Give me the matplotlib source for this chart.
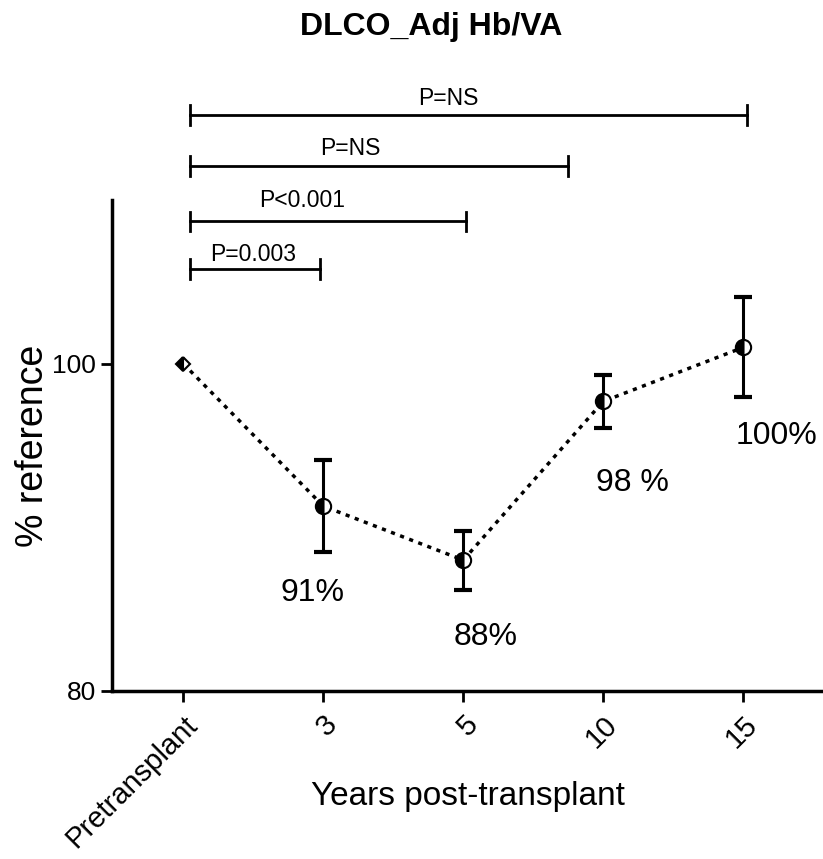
import matplotlib
matplotlib.use("Agg")
import matplotlib.pyplot as plt

plt.rcParams['font.family'] = ['Liberation Sans', 'DejaVu Sans']

# data
categories = ['Pretransplant', '3', '5', '10', '15']
means = [100.0, 91.3, 88.0, 97.7, 101.0]
errs = [0.0, 2.8, 1.8, 1.6, 3.05]
pct_text = ['91%', '88%', '98 %', '100%']
pct_pos = [(0.92, 86.0), (2.16, 83.3), (3.21, 92.7), (4.24, 95.6)]

# significance brackets: start, end, p-value text
br_start = [0.05, 0.05, 0.05, 0.05]
br_end = [0.98, 2.02, 2.75, 4.03]
br_text = ['P=0.003', 'P<0.001', 'P=NS', 'P=NS']
br_y = [105.8, 108.7, 112.1, 115.2]
br_text_x = [0.50, 0.85, 1.19, 1.89]
br_text_dy = [0.15, 0.55, 0.35, 0.3]

fig = plt.figure(figsize=(8.23, 8.59), dpi=100)
ax = fig.add_axes([0.136, 0.1956, 0.864, 0.5714])

x = list(range(len(categories)))
ax.plot(x, means, color='black', lw=2.5, ls=(0, (1.2, 1.6)), zorder=2)
ax.errorbar(x[1:], means[1:], yerr=errs[1:], fmt='none', ecolor='black',
            elinewidth=2.2, capsize=6.5, capthick=3, zorder=3)
ax.plot(x[0], means[0], marker='D', ms=7, color='black', fillstyle='left',
        markerfacecoloralt='white', mec='black', mew=1.5, ls='none', zorder=4)
ax.plot(x[1:], means[1:], marker='o', ms=11, color='black', fillstyle='left',
        markerfacecoloralt='white', mec='black', mew=1.5, ls='none', zorder=4)

for t, (px, py) in zip(pct_text, pct_pos):
    ax.text(px, py, t, ha='center', va='center', fontsize=23)

for s, e, y, t, tx, dy in zip(br_start, br_end, br_y, br_text, br_text_x, br_text_dy):
    ax.plot([s, e], [y, y], color='black', lw=2, clip_on=False)
    ax.plot([s, s], [y - 0.6, y + 0.6], color='black', lw=2, clip_on=False)
    ax.plot([e, e], [y - 0.6, y + 0.6], color='black', lw=2, clip_on=False)
    ax.text(tx, y + dy, t, ha='center', va='bottom', fontsize=16.5)

ax.set_xlim(-0.51, 4.57)
ax.set_ylim(80, 110)
ax.set_yticks([80, 100])
ax.set_xticks(x)
ax.set_xticklabels(categories, rotation=45, ha='right', rotation_mode='anchor',
                   fontsize=21)
ax.tick_params(axis='y', labelsize=19, length=8, width=2)
ax.tick_params(axis='x', length=8, width=2, pad=6)
ax.spines['top'].set_visible(False)
ax.spines['right'].set_visible(False)
ax.spines['left'].set_linewidth(2.5)
ax.spines['bottom'].set_linewidth(2.5)

ax.set_ylabel('% reference', fontsize=27)
ax.yaxis.set_label_coords(-0.111, 0.5)
ax.yaxis.label.set_va('center')
ax.set_xlabel('Years post-transplant', fontsize=24)
ax.xaxis.set_label_coords(0.50, -0.216)
ax.xaxis.label.set_va('center')
fig.text(0.524, 0.969, 'DLCO_Adj Hb/VA', ha='center', va='center',
         fontsize=23, fontweight='bold')

fig.savefig('out.png', dpi=100)
